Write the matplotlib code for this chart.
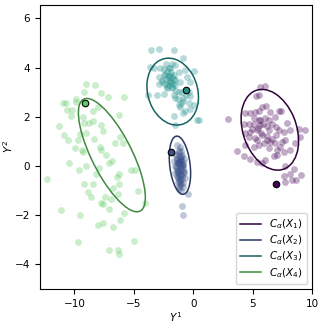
import numpy as np
import matplotlib.pyplot as plt
from matplotlib.patches import Ellipse

# nuages de points
x1 = [5.64, 6.01, 5.28, 5.50, 6.12, 5.79, 2.92, 4.32, 4.80, 5.22, 5.50, 6.49, 7.19, 7.41,
      6.91, 5.50, 5.64, 6.01, 4.24, 4.66, 5.08, 5.64, 6.21, 6.63, 7.89, 7.19, 6.35, 5.36,
      4.80, 4.38, 4.66, 5.22, 5.83, 7.00, 7.61, 8.17, 8.87, 9.44, 6.21, 6.49, 6.91, 7.47,
      7.75, 8.59, 9.01, 5.50, 5.08, 4.38, 6.35, 7.05, 7.61, 8.17, 3.68, 4.24, 4.80, 5.36,
      6.07, 6.77, 7.05, 5.79, 7.75, 8.45, 8.17, 7.75, 8.31, 8.64, 9.08, 7.61,
      5.45, 5.90, 6.25, 5.15, 5.70, 6.60, 6.95, 5.95, 5.35, 6.40, 7.30, 4.95]
y1 = [3.19, 3.24, 2.83, 2.87, 2.43, 2.40, 1.89, 2.15, 2.15, 2.19, 2.24, 2.19, 2.25, 2.24,
      1.97, 1.86, 1.88, 1.93, 1.72, 1.70, 1.72, 1.65, 1.61, 1.72, 1.75, 1.48, 1.45, 1.45,
      1.38, 1.32, 1.18, 1.15, 1.25, 1.25, 1.38, 1.45, 1.52, 1.45, 1.04, 0.98, 0.93, 0.98,
      1.04, 0.93, 1.18, 0.84, 0.77, 0.84, 0.71, 0.64, 0.57, 0.64, 0.61, 0.39, 0.30, 0.16,
      0.23, 0.39, 0.43, 0.12, -0.01, -0.11, -0.34, -0.65, -0.56, -0.56, -0.38, -0.42,
      1.55, 1.70, 1.20, 1.95, 1.35, 1.10, 1.60, 0.95, 1.05, 1.85, 0.75, 1.50]

x2 = [-1.24, -1.52, -1.35, -1.10, -0.95, -1.40, -1.20, -1.00, -1.30, -1.15, -0.85, -1.45,
      -1.05, -1.25, -0.90, -1.35, -1.10, -0.80, -1.50, -1.20, -1.00, -1.30, -0.95, -1.15,
      -1.40, -0.75, -1.05, -1.25, -0.90, -1.60, -1.10, -1.35, -0.85, -1.20, -1.00, -1.45,
      -1.15, -0.95, -1.30, -0.48, -0.95, -0.88, -1.55, -0.70, -1.05, -1.25, -0.90, -1.15,
      -1.35, -1.00, -1.20, -0.80, -1.10, -1.30, -0.95, -1.20, -1.05, -1.40, -0.85, -1.15,
      -1.25, -1.00, -1.10, -0.90, -1.30, -1.15, -1.05, -1.20]
y2 = [0.63, 0.50, 0.85, 0.75, 0.45, 0.30, 0.40, 0.20, 0.10, 0.05, 0.15, -0.05, -0.15,
      -0.25, -0.10, 0.25, -0.35, -0.30, 0.00, 0.55, 0.60, -0.45, -0.55, -0.60, -0.20,
      -0.20, 0.35, 0.15, -0.70, 0.20, -0.80, -0.40, -0.85, -0.95, -1.00, 0.45, 0.30, 0.05,
      -0.65, -1.15, -1.64, -2.00, -0.30, -0.50, -0.05, -0.50, 0.05, -0.70, -0.10, -0.35,
      0.10, 0.30, 0.20, -0.15, -0.40, -0.60, 0.40, 0.10, -0.25, 0.00, -0.85, 0.25, -0.50,
      0.05, -0.30, -0.20, -0.75, 0.15]

x3 = [-3.56, -2.92, -1.66, -0.87, -3.62, -3.34, -2.78, -2.27, -1.79, -1.94, -1.24, -0.67,
      0.03, -0.53, -2.92, -2.50, -2.08, -1.66, -2.64, -1.94, -1.52, -1.10, -0.25, -2.92,
      -2.22, -1.79, -2.44, -3.01, -3.85, -1.66, -0.95, -0.34, -0.25, -0.82, -1.52, -1.24,
      -1.10, -0.39, 0.03, -0.25, -0.67, -0.82, -1.60, 0.45, -1.52,
      -2.30, -2.00, -1.80, -2.10, -1.70, -2.40, -1.90, -2.20, -1.50, -2.60, -1.45, -1.30,
      -1.00, -0.60, -2.05, -2.50, -1.55, 0.31, -2.15, -1.85, -2.35, -1.95, -1.60, -2.25,
      -1.75, -1.20, -0.90]
y3 = [4.73, 4.77, 4.73, 4.39, 4.02, 3.96, 3.96, 4.16, 4.16, 3.96, 3.82, 3.89, 3.86, 3.62,
      3.62, 3.69, 3.62, 3.69, 3.41, 3.41, 3.28, 3.41, 3.41, 3.35, 3.21, 3.15, 2.94, 2.90,
      2.90, 2.87, 3.01, 3.01, 2.85, 2.76, 2.76, 2.47, 2.40, 2.54, 2.47, 2.30, 2.22, 2.15,
      2.03, 1.86, 1.68,
      3.55, 3.45, 3.60, 3.30, 3.35, 3.75, 3.80, 3.15, 3.50, 3.50, 3.05, 2.70, 2.55, 2.90,
      4.00, 3.95, 4.10, 1.88, 3.65, 3.40, 3.35, 3.70, 3.55, 3.85, 3.20, 3.00, 2.65]

x4 = [-9.01, -8.26, -9.18, -7.78, -7.19, -5.79, -9.86, -10.98, -10.70, -9.91, -10.59,
      -10.22, -8.48, -8.06, -6.21, -10.30, -9.24, -9.16, -8.74, -8.40, -7.78, -11.29,
      -7.61, -9.01, -10.87, -10.56, -9.55, -9.66, -8.34, -6.15, -6.57, -5.92, -7.89,
      -7.75, -9.94, -9.38, -9.24, -7.36, -10.50, -6.85, -7.05, -9.58, -9.04, -7.94,
      -5.25, -4.89, -12.27, -6.29, -6.43, -8.17, -9.16, -8.40, -6.73, -6.21, -8.82,
      -8.62, -7.42, -6.94, -6.35, -7.75, -7.56, -7.05, -4.66, -4.02, -11.15, -9.55,
      -5.79, -6.15, -6.77, -8.06, -7.56, -4.97, -9.66, -7.05, -6.35, -6.27]
y4 = [3.35, 3.29, 3.01, 2.97, 2.81, 2.81, 2.70, 2.56, 2.54, 2.59, 2.29, 2.26, 2.24, 2.40,
      2.09, 2.02, 1.97, 1.75, 1.76, 1.83, 1.68, 1.61, 1.44, 1.34, 1.25, 1.07, 1.30, 1.04,
      1.11, 1.18, 0.93, 0.93, 0.77, 0.64, 0.71, 0.64, 0.57, 0.43, 0.12, 0.20, 0.10, -0.17,
      0.00, -0.07, -0.15, -0.17, -0.55, -0.31, -0.45, -0.31, -0.74, -0.74, -0.88, -0.72,
      -1.06, -1.28, -1.26, -1.33, -1.12, -1.50, -1.56, -1.73, -1.03, -1.50, -1.77, -2.00,
      -1.91, -2.18, -2.48, -2.38, -2.32, -3.05, -3.11, -3.40, -3.40, -3.59]

# point marque de chaque groupe
pt_x = [6.97, -1.85, -0.62, -9.10]
pt_y = [-0.72, 0.57, 3.08, 2.54]

# ellipses : centre et matrice (sxx, syy, sxy)
ell_cx = [6.45, -1.12, -1.73, -6.85]
ell_cy = [1.47, 0.03, 3.02, 0.44]
ell_sxx = [5.86, 0.81, 4.71, 7.95]
ell_syy = [2.69, 1.40, 1.85, 5.30]
ell_sxy = [-1.08, -0.30, -0.48, -4.85]

noms = [r"$C_\alpha(X_1)$", r"$C_\alpha(X_2)$", r"$C_\alpha(X_3)$", r"$C_\alpha(X_4)$"]

couleurs = plt.cm.viridis([0.0, 0.25, 0.5, 0.75])
groupes = [(x1, y1), (x2, y2), (x3, y3), (x4, y4)]

plt.rcParams['font.size'] = 7.5
fig = plt.figure(figsize=(3.24, 3.24), dpi=100)
ax = fig.add_axes([0.1235, 0.108, 0.8395, 0.8766])

for i in range(4):
    gx, gy = groupes[i]
    ax.scatter(gx, gy, s=24, color=couleurs[i], alpha=0.33, linewidths=0)

for i in range(4):
    # on tire la forme de l'ellipse des valeurs propres
    M = np.array([[ell_sxx[i], ell_sxy[i]], [ell_sxy[i], ell_syy[i]]])
    vals, vecs = np.linalg.eigh(M)
    angle = np.degrees(np.arctan2(vecs[1, 1], vecs[0, 1]))
    trait = couleurs[i].copy()
    trait[:3] = trait[:3] * 0.68
    e = Ellipse((ell_cx[i], ell_cy[i]), 2 * np.sqrt(vals[1]), 2 * np.sqrt(vals[0]),
                angle=angle, fill=False, edgecolor=trait, linewidth=1.1)
    ax.add_patch(e)
    ax.plot([], [], color=trait, linewidth=1.1, label=noms[i])
    ax.scatter([pt_x[i]], [pt_y[i]], s=22, color=couleurs[i], edgecolors='black',
               linewidths=0.8, zorder=5)

ax.set_xlim(-12.9, 10)
ax.set_ylim(-5.0, 6.54)
ax.set_xticks([-10, -5, 0, 5, 10])
ax.set_yticks([-4, -2, 0, 2, 4, 6])
ax.set_xlabel(r"$Y^1$", labelpad=1)
ax.set_ylabel(r"$Y^2$", labelpad=0)
ax.legend(loc='lower right', labelspacing=0.25)

fig.savefig("out.png", dpi=100)
